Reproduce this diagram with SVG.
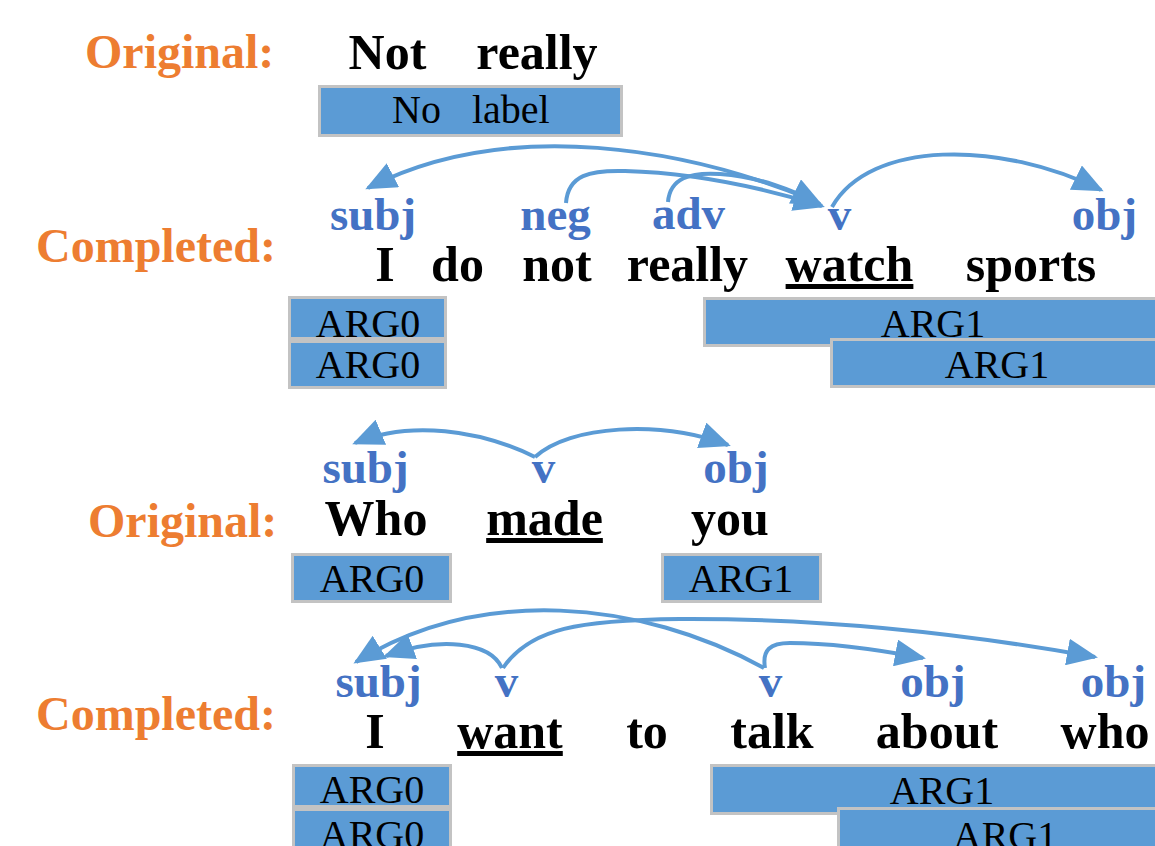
<svg xmlns="http://www.w3.org/2000/svg" width="1155" height="846" viewBox="0 0 1155 846">
<style>
  .hdr { font-family: "Liberation Serif", "Times New Roman", serif; font-weight: bold; font-size: 48px; fill: #ED7D31; }
  .w { font-family: "Liberation Serif", "Times New Roman", serif; font-weight: bold; font-size: 50px; fill: #000; text-anchor: middle; }
  .u { text-decoration: underline; }
  .lbl { font-family: "Liberation Serif", "Times New Roman", serif; font-weight: bold; font-size: 47px; fill: #4472C4; text-anchor: middle; }
  .box { fill: #5B9BD5; stroke: #C3C3C3; stroke-width: 3; }
  .bt { font-family: "Liberation Serif", "Times New Roman", serif; font-size: 40px; fill: #000; text-anchor: middle; }
  .arc { fill: none; stroke: #5B9BD5; stroke-width: 4; marker-end: url(#ah); }
</style>
<defs>
  <marker id="ah" viewBox="0 0 31 27" refX="28" refY="13.5" markerWidth="31" markerHeight="27" markerUnits="userSpaceOnUse" orient="auto">
    <path d="M0,0 L31,13.5 L0,27 z" fill="#5B9BD5"/>
  </marker>
</defs>
<rect width="1155" height="846" fill="#fff"/>

<!-- Row 1 -->
<g id="row1-header"><text class="hdr" x="85" y="68">Original:</text></g>
<g id="row1-words">
  <text class="w" x="387.5" y="69">Not</text>
  <text class="w" x="537" y="69">really</text>
</g>
<g id="row1-nolabel">
  <rect class="box" x="319.5" y="86.5" width="302" height="49"/>
  <text class="bt" x="392" y="123" style="text-anchor:start">No <tspan x="472">label</tspan></text>
</g>

<!-- Row 2 -->
<g id="row2-header"><text class="hdr" x="36" y="262">Completed:</text></g>
<g id="row2-labels">
  <text class="lbl" x="373" y="230">subj</text>
  <text class="lbl" x="555.5" y="230">neg</text>
  <text class="lbl" x="688.5" y="229">adv</text>
  <text class="lbl" x="839.5" y="230">v</text>
  <text class="lbl" x="1104.5" y="230">obj</text>
</g>
<g id="row2-words">
  <text class="w" x="385" y="281">I</text>
  <text class="w" x="457.5" y="281">do</text>
  <text class="w" x="557" y="281">not</text>
  <text class="w" x="687.5" y="281">really</text>
  <text class="w u" x="849.5" y="281">watch</text>
  <text class="w" x="1031" y="281">sports</text>
</g>
<g id="row2-arg0a"><rect class="box" x="289.5" y="297.5" width="156" height="41"/><text class="bt" x="368" y="337">ARG0</text></g>
<g id="row2-arg0b"><rect class="box" x="289.5" y="341.5" width="156" height="46"/><text class="bt" x="368" y="378">ARG0</text></g>
<g id="row2-arg1a"><rect class="box" x="704.5" y="298.5" width="460" height="47"/><text class="bt" x="933" y="337">ARG1</text></g>
<g id="row2-arg1b"><rect class="box" x="831.5" y="339.5" width="330" height="47"/><text class="bt" x="997" y="378">ARG1</text></g>

<!-- Row 3 -->
<g id="row3-header"><text class="hdr" x="88" y="537">Original:</text></g>
<g id="row3-labels">
  <text class="lbl" x="365.5" y="483">subj</text>
  <text class="lbl" x="543.5" y="483">v</text>
  <text class="lbl" x="736" y="483">obj</text>
</g>
<g id="row3-words">
  <text class="w" x="376" y="535">Who</text>
  <text class="w u" x="544.5" y="535">made</text>
  <text class="w" x="730" y="535">you</text>
</g>
<g id="row3-arg0"><rect class="box" x="292.5" y="554.5" width="158" height="47"/><text class="bt" x="372" y="592">ARG0</text></g>
<g id="row3-arg1"><rect class="box" x="662.5" y="554.5" width="158" height="47"/><text class="bt" x="741" y="592">ARG1</text></g>

<!-- Row 4 -->
<g id="row4-header"><text class="hdr" x="36" y="730">Completed:</text></g>
<g id="row4-labels">
  <text class="lbl" x="378.5" y="697">subj</text>
  <text class="lbl" x="506.5" y="697">v</text>
  <text class="lbl" x="770.5" y="697">v</text>
  <text class="lbl" x="933" y="697">obj</text>
  <text class="lbl" x="1113.5" y="697">obj</text>
</g>
<g id="row4-words">
  <text class="w" x="375" y="748">I</text>
  <text class="w u" x="510" y="748">want</text>
  <text class="w" x="647" y="748">to</text>
  <text class="w" x="772" y="748">talk</text>
  <text class="w" x="937" y="748">about</text>
  <text class="w" x="1105" y="748">who</text>
</g>
<g id="row4-arg0a"><rect class="box" x="293.5" y="765.5" width="157" height="41"/><text class="bt" x="372" y="803">ARG0</text></g>
<g id="row4-arg0b"><rect class="box" x="293.5" y="809.5" width="157" height="50"/><text class="bt" x="372" y="848">ARG0</text></g>
<g id="row4-arg1a"><rect class="box" x="711.5" y="765.5" width="460" height="48"/><text class="bt" x="942" y="804">ARG1</text></g>
<g id="row4-arg1b"><rect class="box" x="838.5" y="808.5" width="330" height="50"/><text class="bt" x="1005" y="849">ARG1</text></g>

<!-- Connectors -->
<g id="connectors">
  <path class="arc" d="M812,200 C690,150 510,115 368,188"/>
  <path class="arc" d="M566,203 C568,175 590,170 625,171 C700,173 770,190 822,206"/>
  <path class="arc" d="M668,202 C670,178 690,172 720,174 C760,177 792,190 820,204"/>
  <path class="arc" d="M832,207 C870,140 1000,140 1101,190"/>

  <path class="arc" d="M535,457 C480,430 410,420 355,443"/>
  <path class="arc" d="M535,457 C570,425 660,420 728,445"/>

  <path class="arc" d="M502,668 C490,642 440,636 386,656"/>
  <path class="arc" d="M764,668 C640,600 480,585 356,662"/>
  <path class="arc" d="M503,668 C530,628 580,620 680,619 C850,618 1000,640 1095,657"/>
  <path class="arc" d="M765,668 C762,650 770,643 790,643 C830,643 880,650 923,658"/>
</g>
</svg>
